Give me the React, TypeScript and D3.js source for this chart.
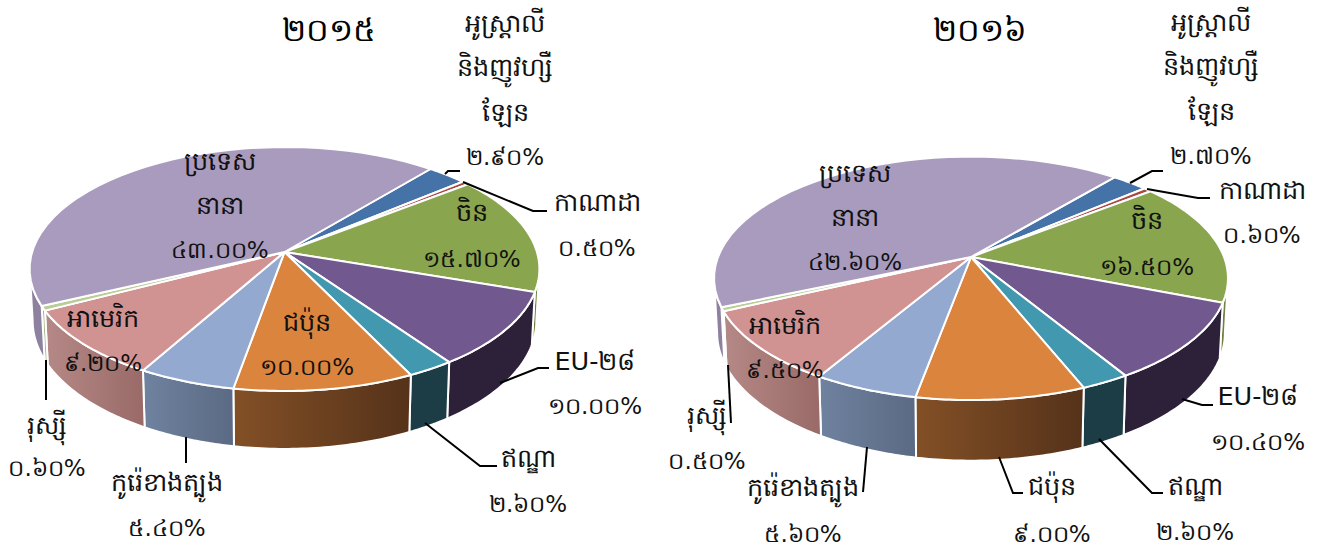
import React from 'react';
import * as d3 from 'd3';

const categories = [
  ['អូស្ត្រាលី', 'និងញូវហ្សឺ', 'ឡែន'],
  ['កាណាដា'],
  ['ចិន'],
  ['EU-២៨'],
  ['ឥណ្ឌា'],
  ['ជប៉ុន'],
  ['កូរ៉េខាងត្បូង'],
  ['អាមេរិក'],
  ['រុស្ស៊ី'],
  ['ប្រទេស', 'នានា'],
];
const values2015 = [2.9, 0.5, 15.7, 10.0, 2.6, 10.0, 5.4, 9.2, 0.6, 43.0];
const values2016 = [2.7, 0.6, 16.5, 10.4, 2.6, 9.0, 5.6, 9.5, 0.5, 42.6];
const topColors = ['#4572A7', '#AA4643', '#89A54E', '#71588F', '#4198AF', '#DB843D', '#93A9CF', '#D19392', '#B9CD96', '#A99BBD'];
const rimFrom = ['#3a5f8c', '#8a3a38', '#6f8040', '#2c2139', '#1c3c46', '#835026', '#6f829f', '#b58987', '#a7b888', '#8d81a0'];
const rimTo = ['#3a5f8c', '#8a3a38', '#6f8040', '#2c2139', '#1c3c46', '#55321a', '#5b6a84', '#996a67', '#a7b888', '#8d81a0'];

const FONT = "'DejaVu Sans', sans-serif";
const KH = '០១២៣៤៥៦៧៨៩';
const khmerPct = (v: number) => v.toFixed(2).replace(/\d/g, (d) => KH[+d]) + '%';

type Lbl = { x: number; y: number };
type Cfg = {
  id: string; title: string; titleX: number; values: number[];
  cx: number; cy: number; R: number; S: number; k: number; first: number;
  botDy: number; labels: Lbl[]; spacing: number[];
  leaders: [number, number][][];
};

const configs: Cfg[] = [
  {
    id: 'a', title: '២០១៥', titleX: 329, values: values2015,
    cx: 284.5, cy: 252, R: 252.4, S: 119.6, k: 0.1393, first: 39.8, botDy: 51,
    labels: [
      { x: 505, y: 156 }, { x: 597, y: 247 }, { x: 472, y: 258 }, { x: 595, y: 405 }, { x: 528, y: 503 },
      { x: 307, y: 366 }, { x: 167, y: 527 }, { x: 103, y: 362 }, { x: 47, y: 467 }, { x: 220, y: 249 },
    ],
    spacing: [44.5, 45, 46, 44, 45, 44, 45, 44, 42, 44],
    leaders: [
      [[445, 174], [448, 171], [460, 171]],
      [[463, 182], [533, 211], [547, 211]],
      [], [[500, 383], [538, 368], [549, 368]],
      [[425, 423], [480, 466], [497, 466]],
      [], [[186, 437], [186, 463]], [], [[46, 360], [46, 400]], [],
    ],
  },
  {
    id: 'b', title: '២០១៦', titleX: 980, values: values2016,
    cx: 971, cy: 257, R: 253, S: 118, k: 0.175, first: 40, botDy: 53.5,
    labels: [
      { x: 1211, y: 155 }, { x: 1262, y: 234 }, { x: 1147, y: 266 }, { x: 1258, y: 441 }, { x: 1195, y: 531 },
      { x: 1052, y: 533 }, { x: 803, y: 533 }, { x: 785, y: 369 }, { x: 707, y: 460 }, { x: 855, y: 261 },
    ],
    spacing: [44.5, 44, 46, 45, 45, 47, 46, 44, 45, 44],
    leaders: [
      [[1130, 183], [1152, 171], [1163, 171]],
      [[1147, 189], [1198, 198], [1210, 198]],
      [], [[1182, 399], [1202, 405], [1213, 405]],
      [[1099, 439], [1152, 493], [1163, 493]],
      [[999, 457], [1013, 493], [1023, 493]],
      [[867, 447], [863, 492]], [], [[728, 365], [731, 423]], [],
    ],
  },
];

function Pie({ c }: { c: Cfg }) {
  const a0r = (c.first * Math.PI) / 180;
  const arcs = d3.pie<number>().sort(null).startAngle(a0r).endAngle(a0r + 2 * Math.PI)(c.values);
  const topPt = (a: number): [number, number] => {
    const X = Math.sin(a), Y = -Math.cos(a), w = 1 - c.k * Y;
    return [c.cx + (c.R * X) / w, c.cy + (c.S * Y) / w];
  };
  const botPt = (a: number): [number, number] => {
    const [x, y] = topPt(a);
    return [c.cx + (x - c.cx) * 0.988, c.cy + c.botDy + (y - c.cy) * 1.05];
  };
  const line = d3.line();
  const sample = (a0: number, a1: number) => d3.range(0, 41).map((i) => a0 + ((a1 - a0) * i) / 40);
  const visLo = Math.PI / 2 + Math.asin(c.k);
  const visHi = (3 * Math.PI) / 2 - Math.asin(c.k);
  return (
    <g>
      <defs>
        {arcs.map((_, i) => (
          <linearGradient key={i} id={`${c.id}g${i}`} x1="0" x2="1" y1="0" y2="0">
            <stop offset="0" stopColor={rimFrom[i]} />
            <stop offset="1" stopColor={rimTo[i]} />
          </linearGradient>
        ))}
      </defs>
      {arcs.map((d, i) => {
        const a0 = Math.max(d.startAngle, visLo), a1 = Math.min(d.endAngle, visHi);
        if (a1 <= a0) return null;
        const s = sample(a0, a1);
        const pts = [...s.map(topPt), ...s.slice().reverse().map(botPt)];
        return <path key={i} d={line(pts)! + 'Z'} fill={`url(#${c.id}g${i})`} stroke="#fff" strokeWidth={2} strokeLinejoin="round" />;
      })}
      {arcs.map((d, i) => {
        const pts = [[c.cx, c.cy] as [number, number], ...sample(d.startAngle, d.endAngle).map(topPt)];
        return <path key={i} d={line(pts)! + 'Z'} fill={topColors[i]} stroke="#fff" strokeWidth={2} strokeLinejoin="round" />;
      })}
      {c.leaders.map((l, i) => l.length ? <path key={i} d={line(l)!} fill="none" stroke="#000" strokeWidth={2} /> : null)}
      <text x={c.titleX} y={41} textAnchor="middle" fontFamily={FONT} fontSize={32} fill="#000">{c.title}</text>
      {arcs.map((d, i) => {
        const lb = c.labels[i];
        const names = categories[i];
        const sp = c.spacing[i];
        const lines = [...names, khmerPct(c.values[i])];
        return (
          <g key={i} fontFamily={FONT} fill="#111" textAnchor="middle">
            {lines.map((t, j) => (
              <text key={j} x={lb.x} y={lb.y + 9 - (lines.length - 1 - j) * sp} fontSize={j === lines.length - 1 ? 23 : 25.5}>{t}</text>
            ))}
          </g>
        );
      })}
    </g>
  );
}

export default function App() {
  return (
    <svg width={1320} height={548} style={{ position: 'absolute', left: 0, top: 0, background: '#fff' }}>
      {configs.map((c) => <Pie key={c.id} c={c} />)}
    </svg>
  );
}
